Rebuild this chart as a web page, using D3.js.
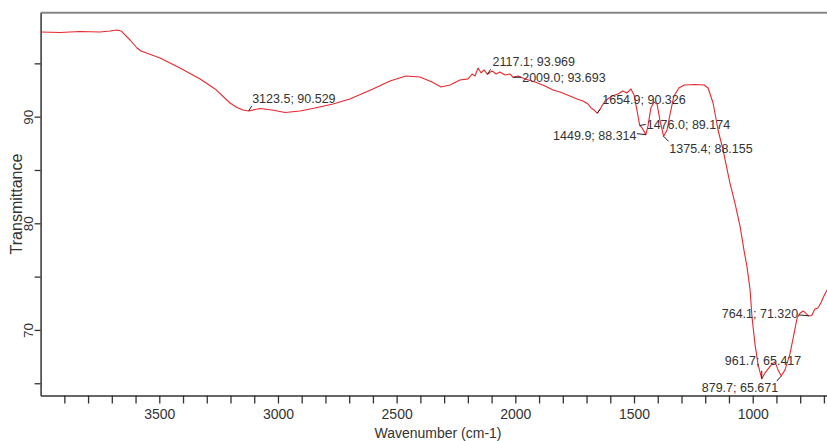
<!DOCTYPE html>
<html>
<head>
<meta charset="utf-8">
<script src="https://cdn.jsdelivr.net/npm/d3@7"></script>
<style>
  body { margin: 0; background: #fff; }
  svg { display: block; font-family: "Liberation Sans", Arial, sans-serif; }
  .axis path, .axis line { stroke: #333; }
  .axis text { fill: #333; }
</style>
</head>
<body>
<svg id="chart"></svg>
<script>
// FTIR spectrum
const wavenumber = [
  4000, 3918, 3834, 3750, 3708, 3678, 3661, 3623, 3594, 3577, 3560, 3497, 3413, 3328, 3265,
  3202, 3173, 3147, 3123.5, 3076, 3025, 2970, 2907, 2844, 2768, 2697, 2600, 2528, 2461, 2402,
  2351, 2313, 2275, 2233, 2199, 2182, 2170, 2157, 2144, 2132, 2117.1, 2098, 2081, 2065, 2043,
  2022, 2009.0, 1988, 1959, 1917, 1875, 1841, 1812, 1791, 1770, 1740, 1715, 1694, 1681, 1669,
  1654.9, 1643, 1622, 1593, 1568, 1547, 1530, 1513, 1500, 1488, 1476.0, 1466, 1449.9, 1441, 1429,
  1416, 1403, 1391, 1375.4, 1361, 1348, 1332, 1311, 1289, 1243, 1205, 1188, 1167, 1146, 1125,
  1096, 1075, 1053, 1037, 1024, 1011, 1003, 990, 977, 961.7, 948, 935, 918, 906, 893,
  879.7, 864, 843, 826, 813, 800, 787, 774, 764.1, 751, 738, 725, 713, 700, 687
];
const transmittance = [
  97.94, 97.89, 97.99, 97.94, 98.04, 98.13, 98.04, 97.19, 96.44, 96.16, 96.02, 95.50, 94.57, 93.53, 92.60,
  91.28, 90.86, 90.63, 90.529, 90.77, 90.63, 90.39, 90.53, 90.82, 91.19, 91.66, 92.60, 93.35, 93.82, 93.72,
  93.25, 92.78, 92.97, 93.44, 93.54, 94.00, 93.82, 94.56, 94.10, 94.38, 93.969, 94.29, 94.00, 94.19, 93.91,
  94.00, 93.693, 93.82, 93.53, 93.25, 92.88, 92.50, 92.32, 92.13, 91.94, 91.66, 91.47, 91.19, 90.82, 90.63,
  90.326, 90.72, 91.47, 91.94, 92.13, 92.41, 92.22, 92.60, 92.03, 90.63, 89.174, 88.94, 88.314, 89.13, 90.82,
  91.38, 91.19, 89.69, 88.155, 88.75, 90.25, 91.94, 92.69, 92.97, 93.02, 92.97, 92.69, 91.28, 88.75, 86.88,
  83.78, 81.91, 79.69, 77.50, 75.91, 73.75, 71.22, 68.59, 66.72, 65.417, 65.97, 66.34, 66.81, 67.00, 66.25,
  65.671, 66.25, 67.75, 69.62, 71.12, 71.59, 71.78, 71.50, 71.320, 71.36, 71.97, 72.06, 72.53, 73.19, 73.75
];

// labelled peaks
const peakWavenumber = [3123.5, 2117.1, 2009.0, 1654.9, 1476.0, 1449.9, 1375.4, 961.7, 879.7, 764.1];
const peakTransmittance = [90.529, 93.969, 93.693, 90.326, 89.174, 88.314, 88.155, 65.417, 65.671, 71.320];

// tick values
const xTicks = d3.range(3900, 699, -100);
const xLabelled = [3500, 3000, 2500, 2000, 1500, 1000];
const yTicks = [65, 70, 75, 80, 85, 90, 95];
const yLabelled = [70, 80, 90];

const width = 827;
const height = 441;

// where each peak label sits relative to its peak: leader end, text anchor point
const labelLayout = [
  { lx: 3, ly: -5, tx: 3.5, ty: -8.4, anchor: "start" },
  { lx: 3, ly: -5, tx: 5, ty: -8.4, anchor: "start" },
  { lx: 8, ly: 0, tx: 9, ty: 4.3, anchor: "start" },
  { lx: 3, ly: -4, tx: 5, ty: -9, anchor: "start" },
  { lx: 6, ly: -1, tx: 7, ty: 3.8, anchor: "start" },
  { lx: -9, ly: -1, tx: -9.4, ty: 5.3, anchor: "end" },
  { lx: 5, ly: 5, tx: 5.7, ty: 16.2, anchor: "start" },
  { lx: 0, ly: -8, tx: -37, ty: -14, anchor: "start" },
  { lx: -4.5, ly: 5, tx: -79.5, ty: 15.8, anchor: "start" },
  { lx: -10, ly: -1, tx: -10.5, ty: 2.6, anchor: "end" }
];

const svg = d3.select("#chart")
    .attr("width", width)
    .attr("height", height);

const x = d3.scaleLinear()
    .domain([4000, 687])
    .range([40.6, 827]);

const y = d3.scaleLinear()
    .domain([63.85, 99.75])
    .range([395.5, 12.7]);

// top frame line
svg.append("line")
    .attr("x1", x.range()[0]).attr("x2", x.range()[1])
    .attr("y1", y.range()[1]).attr("y2", y.range()[1])
    .attr("stroke", "#888")
    .attr("stroke-width", 2);

const xAxis = svg.append("g")
    .attr("class", "axis")
    .attr("transform", `translate(0,${y.range()[0]})`)
    .call(d3.axisBottom(x)
        .tickValues(xTicks)
        .tickSize(8)
        .tickSizeOuter(0)
        .tickFormat(d => xLabelled.includes(d) ? d : ""));

xAxis.select(".domain").attr("stroke-width", 1.5);
xAxis.selectAll(".tick line").attr("stroke-width", 1.3);
xAxis.selectAll(".tick text")
    .attr("y", 14)
    .attr("dy", "0.71em")
    .style("font-size", "14px");

const yAxis = svg.append("g")
    .attr("class", "axis")
    .attr("transform", `translate(${x.range()[0]},0)`)
    .call(d3.axisLeft(y)
        .tickValues(yTicks)
        .tickSize(6)
        .tickSizeOuter(0)
        .tickFormat(d => yLabelled.includes(d) ? d : ""));

yAxis.select(".domain").attr("stroke-width", 1.5);
yAxis.selectAll(".tick line").attr("stroke-width", 1.3);
yAxis.selectAll(".tick text")
    .attr("transform", "rotate(-90)")
    .attr("x", 0)
    .attr("y", -7.5)
    .attr("dy", 0)
    .attr("text-anchor", "middle")
    .style("font-size", "13.5px");

// axis titles
svg.append("text")
    .attr("x", 438)
    .attr("y", 438)
    .attr("text-anchor", "middle")
    .attr("fill", "#333")
    .style("font-size", "14px")
    .text("Wavenumber (cm-1)");

svg.append("text")
    .attr("transform", "translate(22,204) rotate(-90)")
    .attr("text-anchor", "middle")
    .attr("fill", "#333")
    .style("font-size", "16px")
    .text("Transmittance");

// spectrum
const spectrum = wavenumber.map((w, i) => ({ w: w, t: transmittance[i] }));

const line = d3.line()
    .x(d => x(d.w))
    .y(d => y(d.t));

svg.append("path")
    .datum(spectrum)
    .attr("fill", "none")
    .attr("stroke", "#e8272d")
    .attr("stroke-width", 1.1)
    .attr("stroke-linejoin", "round")
    .attr("d", line);

// peak labels
const peaks = peakWavenumber.map((w, i) => ({ w: w, t: peakTransmittance[i], lay: labelLayout[i] }));

const peak = svg.selectAll(".peak")
    .data(peaks)
    .enter()
    .append("g")
    .attr("class", "peak")
    .attr("transform", d => `translate(${x(d.w)},${y(d.t)})`);

peak.append("line")
    .attr("x1", 0).attr("y1", 0)
    .attr("x2", d => d.lay.lx).attr("y2", d => d.lay.ly)
    .attr("stroke", "#222")
    .attr("stroke-width", 1);

peak.append("text")
    .attr("x", d => d.lay.tx)
    .attr("y", d => d.lay.ty)
    .attr("text-anchor", d => d.lay.anchor)
    .attr("fill", "#333")
    .style("font-size", "12.5px")
    .text(d => `${d.w.toFixed(1)}; ${d.t.toFixed(3)}`);
</script>
</body>
</html>
